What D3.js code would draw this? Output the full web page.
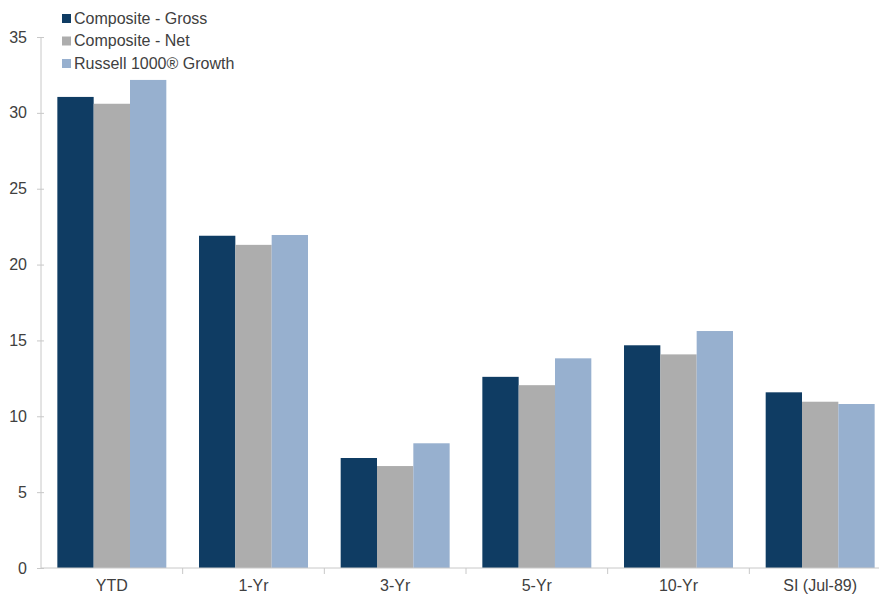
<!DOCTYPE html>
<html>
<head>
<meta charset="utf-8">
<script src="https://cdn.jsdelivr.net/npm/d3@7"></script>
<style>
  html, body { margin: 0; padding: 0; background: #fff; }
  svg { display: block; font-family: "Liberation Sans", Arial, sans-serif; }
</style>
</head>
<body>
<svg id="chart" width="879" height="594"></svg>
<script>
// Annualized returns by period
const categories = ["YTD", "1-Yr", "3-Yr", "5-Yr", "10-Yr", "SI (Jul-89)"];
const seriesNames = ["Composite - Gross", "Composite - Net", "Russell 1000® Growth"];
const gross = [31.05, 21.9, 7.25, 12.6, 14.68, 11.58];
const net = [30.6, 21.3, 6.72, 12.05, 14.08, 10.96];
const russell = [32.17, 21.95, 8.22, 13.82, 15.62, 10.81];
const yTicks = [0, 5, 10, 15, 20, 25, 30, 35];
const colors = ["#0f3c63", "#adadad", "#97b0cf"];

const seriesValues = [gross, net, russell];

const svg = d3.select("#chart");
const plotLeft = 41, plotTop = 37, plotBottom = 568, plotRight = 891;

const x = d3.scaleBand().domain(categories).range([plotLeft, plotRight]).paddingInner(0).paddingOuter(0);
const xInner = d3.scaleBand().domain(seriesNames).range([0, x.bandwidth()]).paddingInner(0).paddingOuter(0.45);
const y = d3.scaleLinear().domain([0, 35]).range([plotBottom, plotTop]);

// bars
const groups = svg.append("g").selectAll("g")
  .data(categories).join("g")
  .attr("transform", d => `translate(${x(d)},0)`);

groups.selectAll("rect")
  .data((c, i) => seriesNames.map((s, j) => ({ s, j, v: seriesValues[j][i] })))
  .join("rect")
  .attr("x", d => xInner(d.s))
  .attr("width", xInner.bandwidth())
  .attr("y", d => y(d.v))
  .attr("height", d => y(0) - y(d.v))
  .attr("fill", d => colors[d.j]);

// y axis
const yAxis = svg.append("g")
  .attr("transform", `translate(${plotLeft},0)`)
  .call(d3.axisLeft(y).tickValues(yTicks).tickSize(4).tickPadding(10).tickFormat(d3.format("d")));
yAxis.select(".domain").attr("stroke", "#c8c8c8").attr("d", `M0,${y(35)}V${plotBottom}`);
yAxis.selectAll(".tick line").attr("stroke", "#c8c8c8").attr("x1", 3).attr("x2", -4);
yAxis.selectAll(".tick text").attr("fill", "#404040").style("font-size", "16px");

// x axis
const xAxis = svg.append("g")
  .attr("transform", `translate(0,${plotBottom})`)
  .call(d3.axisBottom(x).tickSize(0).tickPadding(12));
xAxis.select(".domain").attr("stroke", "#c8c8c8").attr("d", `M${plotLeft},0H${plotRight}`);
xAxis.selectAll(".tick text").attr("fill", "#404040").style("font-size", "16px");
xAxis.append("g").selectAll("line")
  .data(categories.slice(1))
  .join("line")
  .attr("x1", d => x(d)).attr("x2", d => x(d))
  .attr("y1", 0).attr("y2", 6)
  .attr("stroke", "#c8c8c8");

// legend
const legend = svg.append("g").attr("transform", "translate(62,12)");
const items = legend.selectAll("g").data(seriesNames).join("g")
  .attr("transform", (d, i) => `translate(0,${i * 22.5})`);
items.append("rect").attr("width", 9).attr("height", 9).attr("y", 2)
  .attr("fill", (d, i) => colors[i]);
items.append("text").attr("x", 12).attr("y", 11.5)
  .attr("fill", "#404040").style("font-size", "16px").text(d => d);
</script>
</body>
</html>
